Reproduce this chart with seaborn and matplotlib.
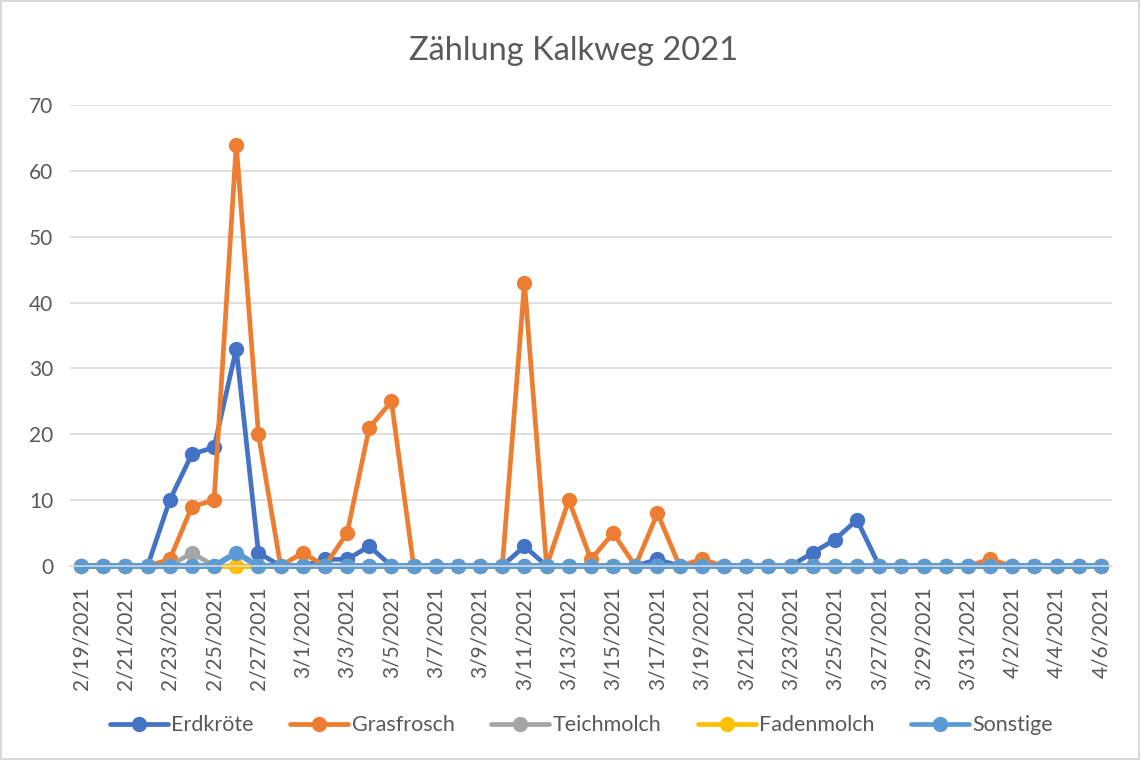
import matplotlib
matplotlib.use("Agg")
import matplotlib.pyplot as plt
import seaborn as sns
import pandas as pd
import numpy as np
from matplotlib.lines import Line2D

dates = ["2/19/2021", "2/20/2021", "2/21/2021", "2/22/2021", "2/23/2021", "2/24/2021",
         "2/25/2021", "2/26/2021", "2/27/2021", "2/28/2021", "3/1/2021", "3/2/2021",
         "3/3/2021", "3/4/2021", "3/5/2021", "3/6/2021", "3/7/2021", "3/8/2021",
         "3/9/2021", "3/10/2021", "3/11/2021", "3/12/2021", "3/13/2021", "3/14/2021",
         "3/15/2021", "3/16/2021", "3/17/2021", "3/18/2021", "3/19/2021", "3/20/2021",
         "3/21/2021", "3/22/2021", "3/23/2021", "3/24/2021", "3/25/2021", "3/26/2021",
         "3/27/2021", "3/28/2021", "3/29/2021", "3/30/2021", "3/31/2021", "4/1/2021",
         "4/2/2021", "4/3/2021", "4/4/2021", "4/5/2021", "4/6/2021"]

erdkroete = [0, 0, 0, 0, 10, 17, 18, 33, 2, 0, 0, 1, 1, 3, 0, 0, 0, 0, 0, 0, 3, 0, 0, 0,
             0, 0, 1, 0, 0, 0, 0, 0, 0, 2, 4, 7, 0, 0, 0, 0, 0, 0, 0, 0, 0, 0, 0]
grasfrosch = [0, 0, 0, 0, 1, 9, 10, 64, 20, 0, 2, 0, 5, 21, 25, 0, 0, 0, 0, 0, 43, 0, 10, 1,
              5, 0, 8, 0, 1, 0, 0, 0, 0, 0, 0, 0, 0, 0, 0, 0, 0, 1, 0, 0, 0, 0, 0]
teichmolch = [0, 0, 0, 0, 0, 2, 0, 0, 0, 0, 0, 0, 0, 0, 0, 0, 0, 0, 0, 0, 0, 0, 0, 0,
              0, 0, 0, 0, 0, 0, 0, 0, 0, 0, 0, 0, 0, 0, 0, 0, 0, 0, 0, 0, 0, 0, 0]
fadenmolch = [0] * 47
sonstige = [0, 0, 0, 0, 0, 0, 0, 2, 0, 0, 0, 0, 0, 0, 0, 0, 0, 0, 0, 0, 0, 0, 0, 0,
            0, 0, 0, 0, 0, 0, 0, 0, 0, 0, 0, 0, 0, 0, 0, 0, 0, 0, 0, 0, 0, 0, 0]

series_names = ["Erdkröte", "Grasfrosch", "Teichmolch", "Fadenmolch", "Sonstige"]
series_values = [erdkroete, grasfrosch, teichmolch, fadenmolch, sonstige]
colors = ["#4472C4", "#ED7D31", "#A5A5A5", "#FFC000", "#5B9BD5"]
title = "Zählung Kalkweg 2021"

rows = []
for name, vals in zip(series_names, series_values):
    for i, v in enumerate(vals):
        rows.append({"idx": i, "Datum": dates[i], "Anzahl": v, "Art": name})
df = pd.DataFrame(rows)

sns.set_theme(style="white")
plt.rcParams["font.family"] = ["Lato", "DejaVu Sans"]
text_color = "#595959"

fig = plt.figure(figsize=(11.4, 7.6), dpi=100)
fig.patch.set_edgecolor("#D9D9D9")
fig.patch.set_linewidth(1.5)
ax = fig.add_axes([0.0614, 0.2553, 0.914, 0.6065])

LW = 3.4
MS = 11
palette = dict(zip(series_names, colors))
for name in series_names:
    sub = df[df["Art"] == name]
    lw = LW + 0.8 if name == "Sonstige" else LW
    sns.lineplot(data=sub, x="idx", y="Anzahl", color=palette[name], marker="o",
                 markersize=MS, markeredgewidth=0, linewidth=lw, ax=ax,
                 legend=False, clip_on=False)
for ln in ax.lines:
    ln.set_clip_on(False)

ax.set_xlim(-0.5, len(dates) - 0.5)
ax.set_ylim(0, 70)
ax.set_yticks(np.arange(0, 71, 10))
ax.yaxis.grid(True, color="#D9D9D9", linewidth=1.2)
ax.set_axisbelow(True)
for s in ["top", "right", "left"]:
    ax.spines[s].set_visible(False)
ax.spines["bottom"].set_color("#D9D9D9")
ax.spines["bottom"].set_linewidth(1.2)

tick_pos = list(range(0, len(dates), 2))
ax.set_xticks(tick_pos)
ax.set_xticklabels([dates[i] for i in tick_pos], rotation=90, fontsize=15,
                   color=text_color)
ax.tick_params(axis="x", length=0, pad=15)
ax.set_xticks([p - 0.5 for p in tick_pos], minor=True)
ax.tick_params(axis="x", which="minor", length=5, color="#D9D9D9", width=1.2)
ax.tick_params(axis="y", length=0, labelsize=15, labelcolor=text_color, pad=12)
ax.set_xlabel("")
ax.set_ylabel("")

fig.text(0.503, 0.933, title, ha="center", va="center", fontsize=23.5,
         color=text_color)

handles = [Line2D([0], [0], color=c, linewidth=LW, marker="o", markersize=MS,
                  markeredgewidth=0) for c in colors]
fig.legend(handles, series_names, loc="center", bbox_to_anchor=(0.51, 0.046),
           ncol=5, frameon=False, fontsize=15.5, handlelength=2.7,
           handletextpad=0.15, columnspacing=1.7, labelcolor=text_color)

fig.savefig("out.png", dpi=100, edgecolor=fig.get_edgecolor())
